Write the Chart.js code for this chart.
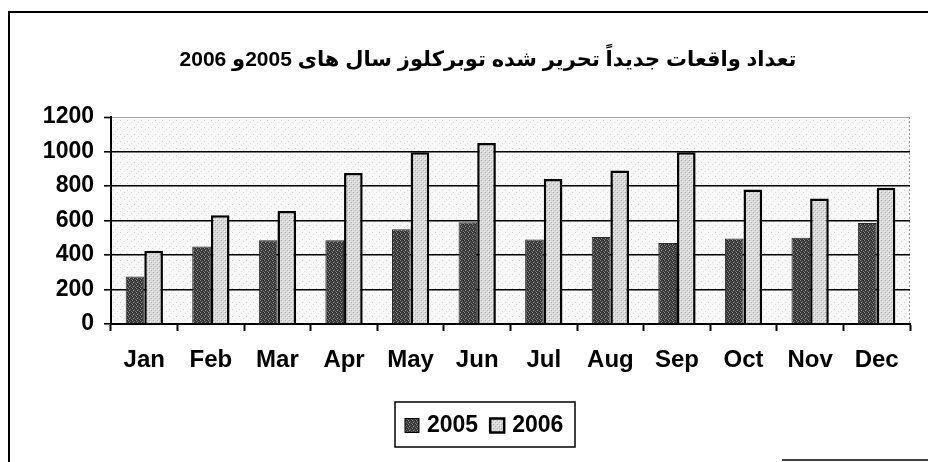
<!DOCTYPE html>
<html>
<head>
<meta charset="utf-8">
<title>واقعات توبرکلوز 2005 و 2006</title>
<script src="https://cdn.jsdelivr.net/npm/chart.js@4.4.1/dist/chart.umd.min.js"></script>
<style>
  html, body { margin: 0; padding: 0; background: #fff; }
  canvas { display: block; }
</style>
</head>
<body>
<canvas id="tbChart" width="928" height="462"></canvas>
<script>
const chartTitle = "تعداد واقعات جدیداً تحریر شده توبرکلوز سال های 2005و 2006";
const months = ["Jan", "Feb", "Mar", "Apr", "May", "Jun", "Jul", "Aug", "Sep", "Oct", "Nov", "Dec"];
const seriesNames = ["2005", "2006"];
const cases2005 = [275, 450, 485, 485, 550, 590, 490, 505, 470, 495, 500, 585];
const cases2006 = [425, 630, 655, 875, 995, 1050, 840, 890, 995, 780, 728, 790];
const yTicks = [0, 200, 400, 600, 800, 1000, 1200];

const FONT = "'Liberation Sans', Arial, 'DejaVu Sans', sans-serif";

// small repeating textures for the bar fills and plot background
function makePattern(size, base, dots) {
  const c = document.createElement("canvas");
  c.width = size; c.height = size;
  const g = c.getContext("2d");
  g.fillStyle = base;
  g.fillRect(0, 0, size, size);
  dots.forEach(([x, y, col]) => {
    g.fillStyle = col;
    g.fillRect(x, y, 1, 1);
  });
  return g.createPattern(c, "repeat");
}

const darkFill = makePattern(4, "#3a3a3a", [
  [0, 0, "#8c8c8c"], [2, 1, "#6a6a6a"], [1, 2, "#959595"], [3, 3, "#727272"], [3, 0, "#252525"]
]);
const lightFill = makePattern(4, "#d9d9d9", [
  [1, 0, "#a8a8a8"], [3, 2, "#b5b5b5"], [0, 3, "#f2f2f2"], [2, 1, "#efefef"]
]);
const plotFill = makePattern(7, "#f8f8f8", [
  [1, 1, "#cfcfcf"], [5, 3, "#dadada"], [3, 5, "#e2e2e2"]
]);

const fills = [darkFill, lightFill];

// frame, plot background, title and boxed legend
const decorations = {
  id: "decorations",
  beforeDraw(chart) {
    const { ctx, chartArea: a } = chart;
    ctx.save();
    ctx.fillStyle = plotFill;
    ctx.fillRect(a.left, a.top, a.right - a.left, a.bottom - a.top);
    ctx.strokeStyle = "#9a9a9a";
    ctx.setLineDash([2, 2]);
    ctx.lineWidth = 1;
    ctx.beginPath();
    ctx.moveTo(a.right - 0.5, a.top);
    ctx.lineTo(a.right - 0.5, a.bottom);
    ctx.stroke();
    ctx.restore();
  },
  afterDraw(chart) {
    const { ctx } = chart;
    ctx.save();

    // outer frame
    ctx.strokeStyle = "#000";
    ctx.lineWidth = 2;
    ctx.beginPath();
    ctx.moveTo(9, 462);
    ctx.lineTo(9, 12);
    ctx.lineTo(928, 12);
    ctx.stroke();
    ctx.lineWidth = 1.5;
    ctx.beginPath();
    ctx.moveTo(782, 460);
    ctx.lineTo(928, 460);
    ctx.stroke();

    // title
    ctx.direction = "rtl";
    ctx.fillStyle = "#000";
    ctx.font = "bold 21px " + FONT;
    ctx.textAlign = "center";
    ctx.textBaseline = "middle";
    ctx.fillText(chartTitle, 488, 60);
    ctx.direction = "ltr";

    // legend
    ctx.font = "bold 23px " + FONT;
    const boxL = 395, boxT = 402, boxW = 180, boxH = 45;
    ctx.fillStyle = "#fff";
    ctx.fillRect(boxL, boxT, boxW, boxH);
    ctx.strokeStyle = "#000";
    ctx.lineWidth = 1.5;
    ctx.strokeRect(boxL, boxT, boxW, boxH);
    let x = boxL + 10;
    const midY = boxT + boxH / 2 + 1;
    chart.data.datasets.forEach((ds, i) => {
      ctx.fillStyle = fills[i];
      ctx.fillRect(x, midY - 7, 14, 14);
      ctx.strokeStyle = "#000";
      ctx.lineWidth = i === 1 ? 2.5 : 1;
      ctx.strokeRect(x, midY - 7, 14, 14);
      x += 22;
      ctx.fillStyle = "#000";
      ctx.textAlign = "left";
      ctx.fillText(ds.label, x, midY);
      x += ctx.measureText(ds.label).width + 12;
    });
    ctx.restore();
  }
};

new Chart(document.getElementById("tbChart"), {
  type: "bar",
  data: {
    labels: months,
    datasets: [
      {
        label: seriesNames[0],
        data: cases2005,
        backgroundColor: darkFill,
        borderColor: "#2a2a2a",
        borderWidth: 1,
        borderSkipped: "bottom",
        barPercentage: 1,
        categoryPercentage: 0.56
      },
      {
        label: seriesNames[1],
        data: cases2006,
        backgroundColor: lightFill,
        borderColor: "#000",
        borderWidth: 2.5,
        borderSkipped: "bottom",
        barPercentage: 1,
        categoryPercentage: 0.56
      }
    ]
  },
  options: {
    responsive: false,
    animation: false,
    layout: { padding: { top: 117, right: 18, bottom: 0, left: 0 } },
    plugins: {
      legend: { display: false },
      title: { display: false },
      tooltip: { enabled: false }
    },
    scales: {
      x: {
        offset: true,
        grid: {
          offset: true,
          drawOnChartArea: false,
          drawTicks: true,
          tickLength: 7,
          tickColor: "#000",
          tickWidth: 2
        },
        border: { color: "#000", width: 2 },
        ticks: {
          color: "#000",
          padding: 15,
          font: { family: FONT, size: 24, weight: "bold" }
        },
        afterFit(scale) { scale.height = 138; }
      },
      y: {
        min: 0,
        max: 1200,
        afterBuildTicks(scale) { scale.ticks = yTicks.map(v => ({ value: v })); },
        grid: {
          color: ctx => (ctx.tick && ctx.tick.value === 1200 ? "#a8a8a8" : "#000"),
          lineWidth: ctx => (ctx.tick && ctx.tick.value === 1200 ? 1 : 1.6),
          tickLength: 7,
          tickColor: "#000",
          tickWidth: 1.6
        },
        border: { color: "#000", width: 2 },
        ticks: {
          color: "#000",
          padding: 10,
          callback: v => String(v),
          font: { family: FONT, size: 23, weight: "bold" }
        },
        afterFit(scale) { scale.width = 111; }
      }
    }
  },
  plugins: [decorations]
});
</script>
</body>
</html>
